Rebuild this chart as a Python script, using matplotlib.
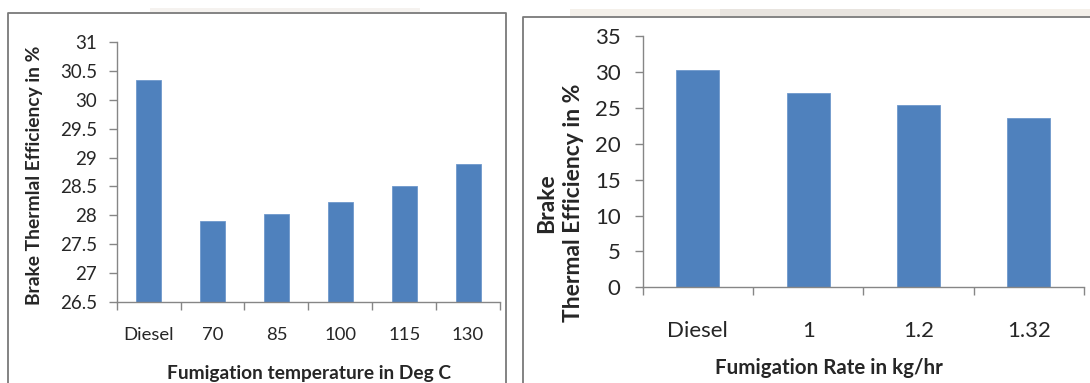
import matplotlib
matplotlib.use('Agg')
import matplotlib.pyplot as plt
from matplotlib.lines import Line2D
from matplotlib.patches import Rectangle
import numpy as np

plt.rcParams['font.family'] = ['Lato', 'DejaVu Sans']

# brake thermal efficiency vs fumigation temperature
temp_labels = ['Diesel', '70', '85', '100', '115', '130']
temp_bte = [30.34, 27.91, 28.02, 28.23, 28.50, 28.88]
temp_ticks = [26.5, 27, 27.5, 28, 28.5, 29, 29.5, 30, 30.5, 31]
temp_ticklabels = ['26.5', '27', '27.5', '28', '28.5', '29', '29.5', '30', '30.5', '31']

# brake thermal efficiency vs fumigation rate
rate_labels = ['Diesel', '1', '1.2', '1.32']
rate_bte = [30.22, 27.06, 25.43, 23.58]
rate_ticks = [0, 5, 10, 15, 20, 25, 30, 35]

BAR_COLOR = '#4F81BD'
AXIS_COLOR = '#868686'
TEXT_COLOR = '#262626'
FRAME_COLOR = '#7a7a7a'

W, H = 1090, 383
fig = plt.figure(figsize=(W / 100, H / 100), dpi=100)


def px(x, y):
    # pixel position -> figure fraction
    return x / W, 1 - y / H


def frame_line(xs, ys):
    fx = [x / W for x in xs]
    fy = [1 - y / H for y in ys]
    fig.add_artist(Line2D(fx, fy, color=FRAME_COLOR, lw=1.3, transform=fig.transFigure))


def smudge(x0, x1, y0, y1, color, alpha):
    fig.add_artist(Rectangle((x0 / W, 1 - y1 / H), (x1 - x0) / W, (y1 - y0) / H,
                             transform=fig.transFigure, facecolor=color, edgecolor='none',
                             alpha=alpha, zorder=0))


def style_axes(ax, n, ylim, yticks, yticklabels, ysize, ypad, xsize, xpad):
    ax.set_xlim(-0.5, n - 0.5)
    ax.set_ylim(*ylim)
    for s in ['top', 'right']:
        ax.spines[s].set_visible(False)
    for s in ['left', 'bottom']:
        ax.spines[s].set_color(AXIS_COLOR)
        ax.spines[s].set_linewidth(1.0)
    ax.set_yticks(yticks)
    ax.set_yticklabels(yticklabels, fontsize=ysize, color=TEXT_COLOR)
    ax.tick_params(axis='y', direction='out', length=6, width=1.0, color=AXIS_COLOR, pad=ypad)
    # category boundaries carry the tick marks, centres carry the labels
    ax.set_xticks(np.arange(-0.5, n, 1.0), minor=True)
    ax.tick_params(axis='x', which='minor', direction='out', length=6, width=1.0, color=AXIS_COLOR)
    ax.tick_params(axis='x', which='major', length=0, pad=xpad, labelsize=xsize, labelcolor=TEXT_COLOR)


# left chart
ax1 = fig.add_axes([116.7 / W, 1 - 302.3 / H, (500 - 116.7) / W, (302.3 - 41.7) / H])
x1 = np.arange(len(temp_labels))
ax1.bar(x1, temp_bte, width=0.39, color=BAR_COLOR, edgecolor='#6f98cc', linewidth=0.6, zorder=2)
ax1.set_xticks(x1)
ax1.set_xticklabels(temp_labels)
style_axes(ax1, len(temp_labels), (26.5, 31), temp_ticks, temp_ticklabels, 13.5, 8, 13.3, 18)
fig.text(*px(35, 175), 'Brake Thermlal Efficiency in %', rotation=90, ha='center', va='center',
         fontsize=13.9, fontweight='bold', color=TEXT_COLOR)
fig.text(*px(309, 373), 'Fumigation temperature in Deg C', ha='center', va='center',
         fontsize=13.8, fontweight='bold', color=TEXT_COLOR)

# right chart
ax2 = fig.add_axes([642.7 / W, 1 - 287.3 / H, (1084 - 642.7) / W, (287.3 - 36) / H])
x2 = np.arange(len(rate_labels))
ax2.bar(x2, rate_bte, width=0.39, color=BAR_COLOR, edgecolor='#6f98cc', linewidth=0.6, zorder=2)
ax2.set_xticks(x2)
ax2.set_xticklabels(rate_labels)
style_axes(ax2, len(rate_labels), (0, 35), rate_ticks, [str(t) for t in rate_ticks], 16, 10, 16, 24)
fig.text(*px(547, 203), 'Brake', rotation=90, ha='center', va='center',
         fontsize=16.5, fontweight='bold', color=TEXT_COLOR)
fig.text(*px(574, 203), 'Thermal Efficiency in %', rotation=90, ha='center', va='center',
         fontsize=16.5, fontweight='bold', color=TEXT_COLOR)
fig.text(*px(829, 368), 'Fumigation Rate in kg/hr', ha='center', va='center',
         fontsize=14.8, fontweight='bold', color=TEXT_COLOR)

# faint strips along the top edge
smudge(150, 420, 8, 12, '#e6e0d8', 0.4)
smudge(570, 1090, 9, 16, '#eee6dc', 0.6)
smudge(720, 900, 9, 16, '#d8d4d0', 0.4)

# chart borders
frame_line([8, 8, 506, 506], [H, 12.7, 12.7, H])
frame_line([523, 523, W], [H, 17, 17])

fig.savefig('out.png', dpi=100)
